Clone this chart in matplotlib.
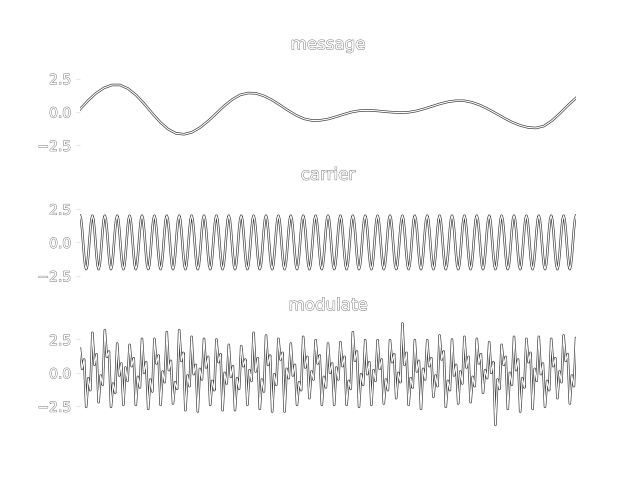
import numpy as np
import matplotlib.pyplot as plt
import matplotlib.patheffects as pe

# message signal (evenly spaced over the time axis)
message = [0.2, 0.85, 1.4, 1.8, 2.02, 2.02, 1.75, 1.27, 0.63, -0.08,
           -0.75, -1.28, -1.6, -1.67, -1.52, -1.17, -0.69, -0.13, 0.44, 0.92,
           1.27, 1.42, 1.39, 1.2, 0.9, 0.52, 0.12, -0.24, -0.51, -0.64,
           -0.63, -0.53, -0.36, -0.17, 0.0, 0.1, 0.12, 0.09, 0.03, -0.02,
           -0.05, -0.03, 0.07, 0.23, 0.42, 0.61, 0.76, 0.84, 0.84, 0.72,
           0.51, 0.22, -0.11, -0.45, -0.76, -1.0, -1.16, -1.2, -1.05, -0.65,
           -0.1, 0.5, 1.05]

# carrier: one cycle, 40 cycles across
carrier_cycle = [2.0, 1.73, 1.0, 0.0, -1.0, -1.73, -2.0, -1.73, -1.0, 0.0, 1.0, 1.73]
carrier_cycles = 40
carrier = carrier_cycle * carrier_cycles + [2.0]

# modulated signal, one row per carrier cycle: peak, jag, jag, trough, jag, jag
modulate = [
    1.8, 0.3, 1.0, -2.55, -0.4, -1.3,
    3.0, 0.6, 1.4, -2.2, -0.2, -0.9,
    3.2, 1.2, 1.6, -2.55, -0.8, -1.5,
    2.2, -0.2, 0.7, -2.4, 0.4, -0.6,
    2.1, 0.5, 1.1, -2.4, -0.3, -1.1,
    2.55, 0.0, 0.8, -2.7, -0.5, -1.4,
    2.55, 0.7, 1.3, -2.4, 0.1, -0.7,
    3.05, 0.2, 0.9, -2.3, -0.7, -1.2,
    3.2, 0.9, 1.5, -2.8, -0.2, -1.0,
    2.7, -0.1, 0.6, -2.9, 0.3, -0.5,
    2.55, 0.4, 1.2, -2.4, -0.6, -1.3,
    2.5, 0.8, 1.4, -2.8, 0.0, -0.8,
    2.1, -0.3, 0.5, -2.8, -0.4, -1.2,
    2.0, 0.5, 1.0, -2.4, 0.2, -0.6,
    3.0, 0.1, 1.1, -2.7, -0.5, -1.4,
    2.8, 0.6, 1.3, -2.9, -0.1, -0.9,
    2.55, 1.0, 1.5, -2.9, 0.3, -0.4,
    2.2, -0.2, 0.6, -2.4, -0.7, -1.3,
    2.7, 0.4, 1.2, -1.9, 0.1, -0.5,
    2.45, 0.7, 1.3, -2.4, -0.3, -1.1,
    2.2, 0.0, 0.7, -2.4, 0.4, -0.5,
    2.3, 0.5, 1.2, -2.4, -0.6, -1.2,
    3.05, 0.9, 1.6, -2.55, -0.1, -0.9,
    2.45, -0.1, 0.8, -2.4, 0.2, -0.6,
    2.45, 0.3, 1.0, -2.3, -0.5, -1.3,
    2.45, 0.8, 1.4, -1.9, 0.0, -0.7,
    3.7, 0.6, 1.5, -2.4, -0.4, -1.1,
    2.45, 0.1, 0.9, -2.7, 0.3, -0.5,
    2.45, 0.5, 1.1, -1.8, -0.2, -1.0,
    2.8, 1.0, 1.6, -2.55, -0.6, -1.3,
    2.5, -0.2, 0.6, -2.3, 0.1, -0.8,
    2.7, 0.4, 1.2, -2.2, -0.3, -1.0,
    2.55, 0.7, 1.4, -1.5, 0.2, -0.4,
    2.3, 0.0, 0.8, -3.9, -0.5, -1.2,
    2.1, 0.6, 1.2, -2.7, 0.0, -0.9,
    2.7, 0.2, 1.0, -2.9, -0.4, -1.1,
    2.55, 0.8, 1.5, -2.7, 0.3, -0.6,
    2.7, -0.1, 0.7, -2.55, -0.6, -1.3,
    2.55, 0.5, 1.1, -1.9, 0.1, -0.7,
    2.8, 0.9, 1.4, -2.3, -0.2, -1.0,
    2.6,
]

titles = ["message", "carrier", "modulate"]
yticks = [-2.5, 0.0, 2.5]

# hollow, thin grey text
outline = [pe.withStroke(linewidth=0.7, foreground="0.5")]

fig, axes = plt.subplots(3, 1, figsize=(6.4, 4.8), dpi=100, sharex=True, sharey=True)
for ax, title, sig in zip(axes, titles, [message, carrier, modulate]):
    t = np.linspace(0, 1, len(sig))
    ax.plot(t, sig, color="0.25", lw=1.8)
    ax.plot(t, sig, color="white", lw=0.8)
    ax.set_title(title, color="white", fontsize=12, path_effects=outline)
    for s in ax.spines.values():
        s.set_visible(False)
    ax.set_yticks(yticks)
    ax.set_yticklabels(["\u22122.5", "0.0", "2.5"], color="white", fontsize=10)
    for lab in ax.get_yticklabels():
        lab.set_path_effects(outline)
    ax.tick_params(axis="y", color="0.9", length=3)
    ax.tick_params(axis="x", bottom=False, labelbottom=False)

axes[0].set_xlim(0, 1)
axes[0].set_ylim(-4.07, 4.07)

fig.savefig("out.png", dpi=100)
